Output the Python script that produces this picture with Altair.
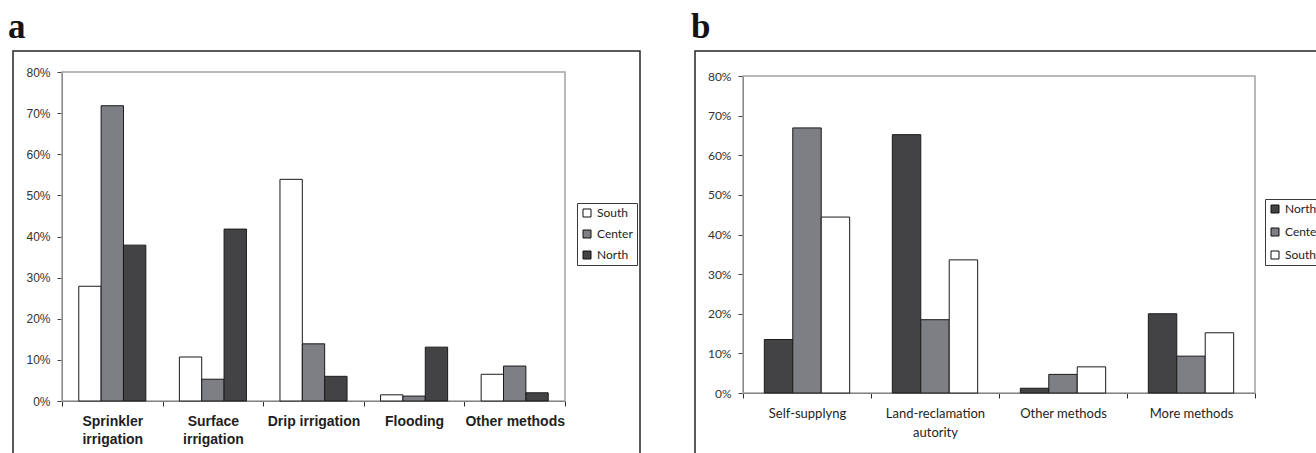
import altair as alt
import pandas as pd

# ---- panel a: irrigation method by region (% of farms) ----
methods_a = ["Sprinkler irrigation", "Surface irrigation", "Drip irrigation",
             "Flooding", "Other methods"]
regions_a = ["South", "Center", "North"]
south_a = [27.9, 10.7, 53.9, 1.5, 6.5]
center_a = [71.8, 5.3, 13.9, 1.2, 8.5]
north_a = [37.9, 41.8, 6.0, 13.1, 2.0]
wrapped_a = {"Sprinkler irrigation": ["Sprinkler", "irrigation"],
             "Surface irrigation": ["Surface", "irrigation"]}

# ---- panel b: water supply source by region (% of farms) ----
sources_b = ["Self-supplyng", "Land-reclamation autority", "Other methods", "More methods"]
regions_b = ["North", "Center", "South"]
north_b = [13.5, 65.2, 1.2, 20.0]
center_b = [66.9, 18.5, 4.7, 9.3]
south_b = [44.4, 33.6, 6.6, 15.2]
wrapped_b = {"Land-reclamation autority": ["Land-reclamation", "autority"]}

y_ticks = [0, 10, 20, 30, 40, 50, 60, 70, 80]
region_colors = {"North": "#434346", "Center": "#7e7f84", "South": "#ffffff"}


def long_table(categories, regions, series):
    rows = []
    for region, values in zip(regions, series):
        for cat, v in zip(categories, values):
            rows.append({"category": cat, "region": region, "share": v})
    return pd.DataFrame(rows)


def wrap_expr(wrapped):
    expr = "datum.value"
    for key, lines in wrapped.items():
        arr = "[" + ",".join("'" + s + "'" for s in lines) + "]"
        expr = "datum.value === '" + key + "' ? " + arr + " : (" + expr + ")"
    return expr


def panel(letter, categories, regions, series, wrapped, w, h, top_gap,
          frame_box, legend_xy, title_dx, tick_font, cat_font, cat_size,
          cat_weight, cat_line, cat_pad, legend_row):
    data = long_table(categories, regions, series)
    fx1, fx2, fy1, fy2 = frame_box
    one = alt.Data(values=[{"k": 1}])

    # outer box around plot and legend (open at the bottom edge of the page)
    frame = alt.Chart(one).mark_rect(
        fill="transparent", stroke="#262626", strokeWidth=1.5
    ).encode(x=alt.value(fx1), x2=alt.value(fx2), y=alt.value(fy1), y2=alt.value(fy2))

    # light grey plot-area border
    border = alt.Chart(one).mark_rect(
        fill="transparent", stroke="#a3a3a3", strokeWidth=1.5
    ).encode(x=alt.value(0), x2=alt.value(w), y=alt.value(top_gap), y2=alt.value(h))

    bars = alt.Chart(data).mark_bar(stroke="#1a1a1a", strokeWidth=1).encode(
        x=alt.X(
            "category:N", sort=categories, title=None,
            scale=alt.Scale(paddingInner=0, paddingOuter=0),
            axis=alt.Axis(
                labelAngle=0, labelExpr=wrap_expr(wrapped), labelFont=cat_font,
                labelFontSize=cat_size, labelFontWeight=cat_weight,
                labelLineHeight=cat_line, labelPadding=cat_pad, labelColor="#1e1e1e",
                labelOverlap=False, labelLimit=400, tickBand="extent", tickSize=5,
                tickColor="#2e2e2e", domainColor="#2e2e2e", grid=False,
            ),
        ),
        xOffset=alt.XOffset(
            "region:N", sort=regions,
            scale=alt.Scale(paddingInner=0, paddingOuter=0.75),
        ),
        y=alt.Y(
            "share:Q", title=None,
            scale=alt.Scale(domain=[0, 80], nice=False, range=[h, top_gap]),
            axis=alt.Axis(
                values=y_ticks, labelExpr="datum.value + '%'", labelFont=tick_font,
                labelFontSize=12, labelColor="#333333", labelPadding=7, tickSize=5,
                tickColor="#444444", domainColor="#444444", grid=False,
            ),
        ),
        color=alt.Color(
            "region:N",
            scale=alt.Scale(domain=regions, range=[region_colors[r] for r in regions]),
            legend=alt.Legend(
                title=None, orient="none", legendX=legend_xy[0], legendY=legend_xy[1],
                direction="vertical", symbolType="square", symbolSize=64,
                symbolStrokeColor="#111111", symbolStrokeWidth=1,
                labelFont="Lato", labelFontSize=12, labelColor="#222222",
                labelOffset=4, rowPadding=legend_row, padding=4,
                strokeColor="#3a3a3a", fillColor="#ffffff",
            ),
        ),
    )

    return alt.layer(frame, border, bars).properties(
        width=w, height=h,
        view=alt.ViewBackground(stroke="transparent"),
        title=alt.TitleParams(
            letter, anchor="start", frame="group", dx=title_dx, dy=35, offset=12,
            baseline="alphabetic", font="Liberation Serif", fontSize=35,
            fontWeight="bold", color="#141414",
        ),
    )


chart_a = panel("a", methods_a, regions_a, [south_a, center_a, north_a], wrapped_a,
                503, 329, 0, (-49, 578, -21, 420), (515, 131), -54,
                "Liberation Sans", "Liberation Sans", 14, "bold", 18, 8, 9)
chart_b = panel("b", sources_b, regions_b, [north_b, center_b, south_b], wrapped_b,
                512, 321, 4, (-48, 600, -21, 420), (522, 127), -52,
                "Lato", "Lato", 13, "normal", 19, 9, 11)

chart = alt.hconcat(chart_a, chart_b, spacing=48).resolve_scale(
    x="independent", y="independent", color="independent", xOffset="independent"
).resolve_legend(color="independent").properties(
    autosize=alt.AutoSizeParams(type="none"),
    padding={"left": 62, "top": 72, "right": 1254, "bottom": 381},
).configure(background="#ffffff")

chart.save("out.html", embed_options={"renderer": "svg", "actions": False})
